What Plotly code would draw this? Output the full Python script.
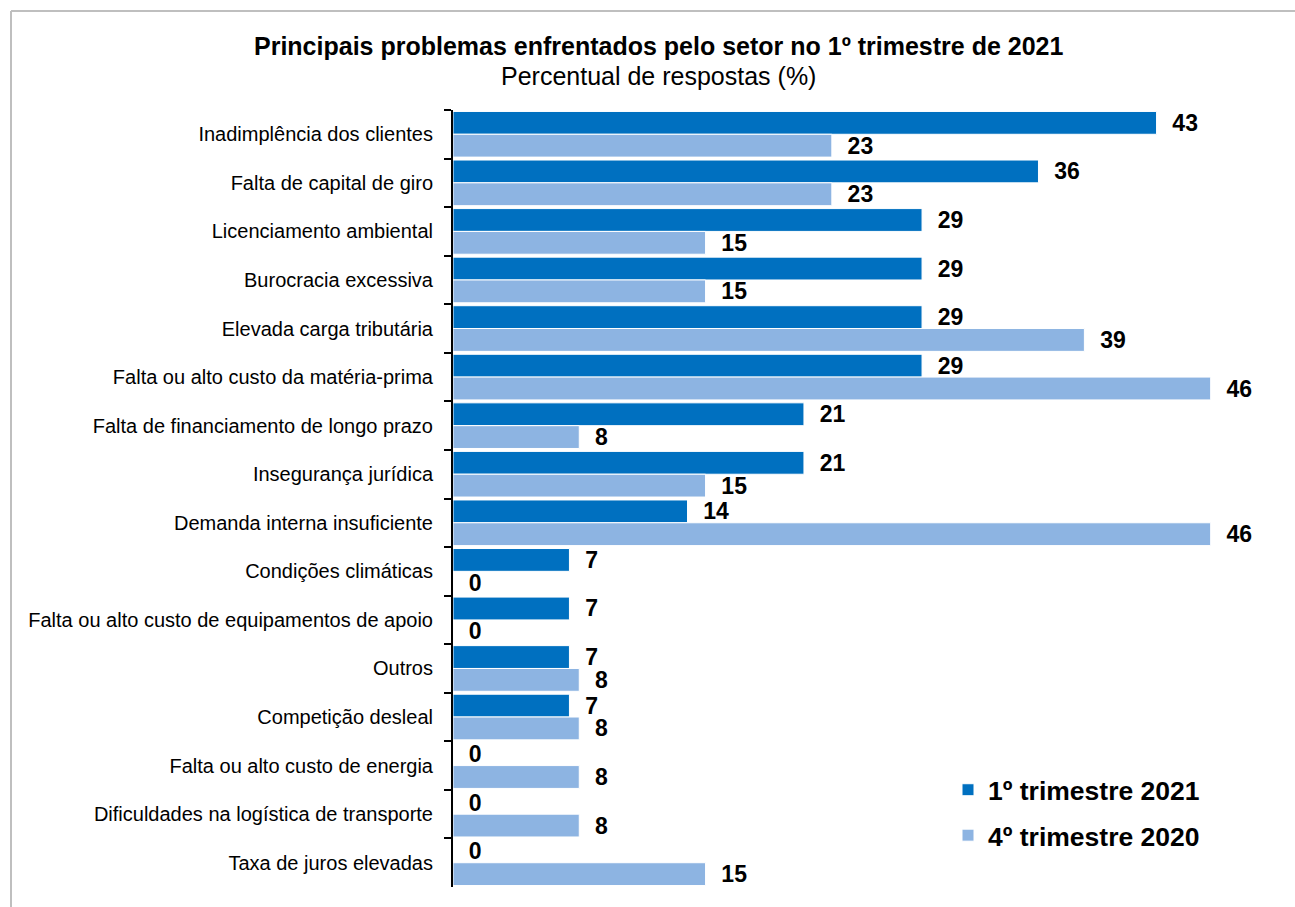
import plotly.graph_objects as go

categories = [
    "Inadimplência dos clientes",
    "Falta de capital de giro",
    "Licenciamento ambiental",
    "Burocracia excessiva",
    "Elevada carga tributária",
    "Falta ou alto custo da matéria-prima",
    "Falta de financiamento de longo prazo",
    "Insegurança jurídica",
    "Demanda interna insuficiente",
    "Condições climáticas",
    "Falta ou alto custo de equipamentos de apoio",
    "Outros",
    "Competição desleal",
    "Falta ou alto custo de energia",
    "Dificuldades na logística de transporte",
    "Taxa de juros elevadas",
]
q1_2021 = [42.9, 35.7, 28.6, 28.6, 28.6, 28.6, 21.4, 21.4, 14.3, 7.1, 7.1, 7.1, 7.1, 0, 0, 0]
q4_2020 = [23.1, 23.1, 15.4, 15.4, 38.5, 46.2, 7.7, 15.4, 46.2, 0, 0, 7.7, 7.7, 7.7, 7.7, 15.4]
series_names = ["1º trimestre 2021", "4º trimestre 2020"]
colors = ["#0070C0", "#8DB4E2"]

W, H = 1295, 907
L, R, T, B = 453, 22, 110, 20
plot_w = W - L - R
plot_h = H - T - B
FONT = "Liberation Sans, Arial"

fig = go.Figure()
for name, vals, col in zip(series_names, [q1_2021, q4_2020], colors):
    fig.add_trace(go.Bar(
        y=categories, x=vals, orientation="h", name=name,
        marker=dict(color=col, line=dict(color="white", width=1)),
        text=[f"\u00a0\u00a0{int(v + 0.5)}" for v in vals],
        textposition="outside",
        constraintext="none",
        textfont=dict(family=FONT, size=23, color="black", weight="bold"),
        cliponaxis=False,
        legendgroup=name,
    ))

fig.update_layout(
    width=W, height=H,
    margin=dict(l=L, r=R, t=T, b=B),
    paper_bgcolor="white", plot_bgcolor="white",
    barmode="group", bargap=0.06, bargroupgap=0,
    font=dict(family=FONT, color="black"),
    showlegend=True,
    legend=dict(
        x=(948 - L) / plot_w, y=(H - B - 766) / plot_h, xanchor="left", yanchor="top",
        font=dict(size=26.5, weight="bold"), traceorder="grouped", tracegroupgap=8,
        bgcolor="rgba(0,0,0,0)", itemwidth=30,
    ),
    xaxis=dict(range=[0, 50], visible=False, fixedrange=True),
    yaxis=dict(
        autorange="reversed", showline=True, linecolor="black", linewidth=2,
        ticks="outside", ticklen=7, tickwidth=2, tickcolor="black",
        tickson="boundaries", tickfont=dict(size=20), ticklabelstandoff=14,
        showgrid=False, fixedrange=True,
    ),
    annotations=[
        dict(text="<b>Principais problemas enfrentados pelo setor no 1º trimestre de 2021</b>",
             xref="paper", yref="paper", x=(658 - L) / plot_w, y=(H - B - 46) / plot_h,
             xanchor="center", yanchor="middle", showarrow=False, font=dict(size=25)),
        dict(text="Percentual de respostas (%)",
             xref="paper", yref="paper", x=(658 - L) / plot_w, y=(H - B - 76) / plot_h,
             xanchor="center", yanchor="middle", showarrow=False, font=dict(size=25)),
    ],
    shapes=[
        dict(type="line", xref="paper", yref="paper",
             x0=(11 - L) / plot_w, x1=(11 - L) / plot_w, y0=(H - B - 11) / plot_h, y1=-1,
             line=dict(color="#BFBFBF", width=2)),
        dict(type="line", xref="paper", yref="paper",
             x0=(11 - L) / plot_w, x1=2, y0=(H - B - 11) / plot_h, y1=(H - B - 11) / plot_h,
             line=dict(color="#BFBFBF", width=2)),
    ],
)

fig.write_html("out.html", config={"displayModeBar": False},
               post_script="document.body.style.margin='0';")
